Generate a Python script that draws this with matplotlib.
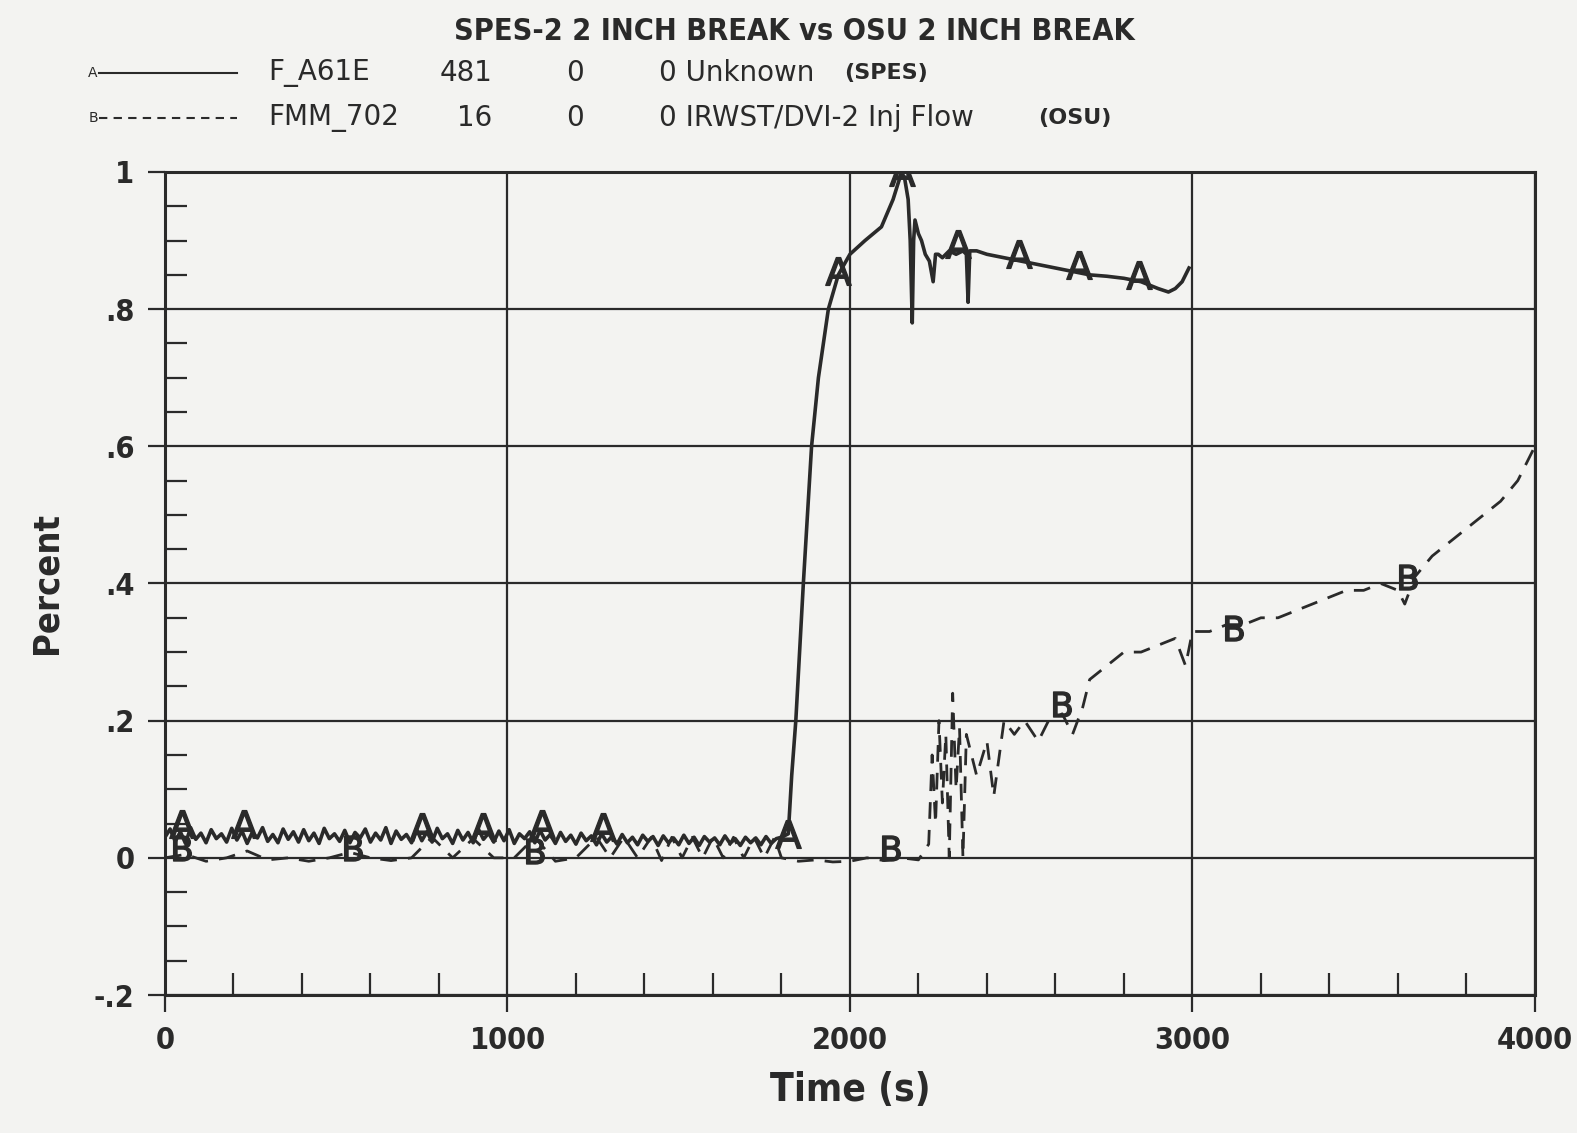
import matplotlib.pyplot as plt

# SPES-2 trace (solid, "A"): noisy band up to ~1820 s, then the rise
t_a = list(range(0, 1815, 15)) + [
    1820, 1830, 1842, 1853, 1864, 1876, 1888, 1908, 1937, 1966, 2000, 2044,
    2092, 2126, 2151, 2160, 2170, 2176, 2182, 2186, 2190, 2200, 2209, 2220,
    2232, 2243, 2250, 2258, 2270, 2290, 2310, 2330, 2340, 2345, 2350,
    2370, 2400, 2450, 2500, 2550, 2600, 2650, 2700, 2750, 2800, 2850, 2900,
    2930, 2950, 2970, 2990]
v_a = [0.030, 0.042, 0.024, 0.038, 0.021, 0.044, 0.027, 0.036, 0.022, 0.041, 0.028, 0.035,
       0.023, 0.043, 0.026, 0.039, 0.021, 0.037, 0.029, 0.044, 0.024, 0.034, 0.022, 0.042,
       0.027, 0.038, 0.023, 0.041, 0.025, 0.036, 0.021, 0.043, 0.028, 0.035, 0.024, 0.040,
       0.022, 0.037, 0.029, 0.042, 0.023, 0.036, 0.026, 0.044, 0.021, 0.039, 0.027, 0.034,
       0.022, 0.041, 0.025, 0.038, 0.023, 0.043, 0.028, 0.035, 0.021, 0.040, 0.026, 0.037,
       0.022, 0.042, 0.027, 0.036, 0.023, 0.039, 0.025, 0.041, 0.021, 0.035, 0.028, 0.038,
       0.022, 0.040, 0.026, 0.034, 0.021, 0.037, 0.024, 0.033, 0.020, 0.036, 0.025, 0.032,
       0.019, 0.035, 0.023, 0.031, 0.020, 0.034, 0.022, 0.030, 0.019, 0.033, 0.024, 0.031,
       0.018, 0.032, 0.022, 0.029, 0.019, 0.033, 0.021, 0.030, 0.018, 0.031, 0.023, 0.029,
       0.019, 0.032, 0.021, 0.028, 0.018, 0.030, 0.022, 0.029, 0.019, 0.031, 0.021, 0.028,
       0.030,
       0.035, 0.12, 0.20, 0.30, 0.40, 0.50, 0.60, 0.70, 0.80, 0.85, 0.88, 0.90,
       0.92, 0.96, 1.0, 0.99, 0.96, 0.90, 0.78, 0.90, 0.93, 0.91, 0.90, 0.88,
       0.87, 0.84, 0.88, 0.88, 0.875, 0.885, 0.88, 0.885, 0.88, 0.81, 0.885,
       0.885, 0.88, 0.875, 0.87, 0.865, 0.86, 0.855, 0.85, 0.848, 0.845, 0.84, 0.83,
       0.825, 0.83, 0.84, 0.86]
mark_a_t = [50, 230, 750, 930, 1100, 1280, 1820, 1966, 2151, 2315, 2495, 2670, 2845]
mark_a_v = [0.05, 0.05, 0.045, 0.045, 0.05, 0.045, 0.035, 0.855, 1.0, 0.895, 0.88, 0.865, 0.85]

# OSU trace (dashed, "B")
t_b = [0, 60, 120, 180, 240, 300, 360, 420, 480, 540, 600, 660, 720, 780, 840,
       900, 960, 1020, 1080, 1140, 1200, 1260, 1300, 1340, 1380, 1420, 1450, 1480,
       1510, 1540, 1570, 1600, 1630, 1660, 1690, 1720, 1750, 1780, 1800, 1850,
       1900, 1950, 2000, 2050, 2100, 2150, 2200,
       2230, 2240, 2250, 2260, 2270, 2280, 2290, 2300, 2310, 2320, 2330, 2340,
       2370, 2400, 2420, 2450, 2480, 2510, 2550, 2580, 2620, 2650, 2680, 2700,
       2750, 2800, 2850, 2900, 2950, 2980, 3000, 3050, 3100, 3150, 3200, 3250,
       3300, 3350, 3400, 3450, 3500, 3550, 3600, 3620, 3650, 3700, 3750, 3800,
       3850, 3900, 3950, 4000]
v_b = [0.0, 0.005, -0.005, 0.0, 0.01, -0.003, 0.0, -0.005, 0.0, 0.008, 0.0, -0.004,
       0.0, 0.03, 0.0, 0.028, 0.0, 0.0, 0.03, -0.005, 0.0, 0.03, 0.0, 0.03, 0.0,
       0.03, -0.004, 0.03, 0.0, 0.03, 0.0, 0.03, 0.0, 0.03, 0.0, 0.03, 0.0, 0.03,
       0.0, -0.005, -0.003, -0.006, -0.005, 0.0, -0.004, 0.0, -0.003,
       0.02, 0.15, 0.05, 0.20, 0.08, 0.18, 0.0, 0.24, 0.10, 0.19, 0.0, 0.18,
       0.12, 0.17, 0.09, 0.20, 0.18, 0.20, 0.17, 0.20, 0.21, 0.18, 0.22, 0.26,
       0.28, 0.30, 0.30, 0.31, 0.32, 0.28, 0.33, 0.33, 0.34, 0.34, 0.35, 0.35,
       0.36, 0.37, 0.38, 0.39, 0.39, 0.40, 0.39, 0.37, 0.41, 0.44, 0.46, 0.48,
       0.50, 0.52, 0.55, 0.60]
mark_b_t = [50, 550, 1080, 2120, 2620, 3120, 3630]
mark_b_v = [0.015, 0.015, 0.01, 0.015, 0.225, 0.335, 0.41]

bg = "#f3f3f1"
ink = "#2a2a2a"
narrow = dict(family="DejaVu Sans", fontstretch="condensed", fontweight="bold")

fig = plt.figure(figsize=(15.77, 11.33), dpi=100, facecolor=bg)
ax = fig.add_axes([0.1046, 0.1218, 0.8687, 0.7264], facecolor=bg)

ax.plot(t_a, v_a, color=ink, lw=2.6, solid_joinstyle="round")
ax.plot(mark_a_t, mark_a_v, ls="none", marker=r"$\mathsf{A}$", ms=20, color=ink)
ax.plot(t_b, v_b, color=ink, lw=2.0, ls=(0, (6, 4)))
ax.plot(mark_b_t, mark_b_v, ls="none", marker=r"$\mathsf{B}$", ms=18, color=ink)

ax.set_xlim(0, 4000)
ax.set_ylim(-0.2, 1.0)
ax.set_xticks([0, 1000, 2000, 3000, 4000])
ax.set_xticks(range(0, 4001, 200), minor=True)
ax.set_yticks([-0.2, 0, 0.2, 0.4, 0.6, 0.8, 1.0])
ax.set_yticks([i * 0.05 - 0.2 for i in range(25)], minor=True)
ax.set_xticklabels(["0", "1000", "2000", "3000", "4000"])
ax.set_yticklabels(["-.2", "0", ".2", ".4", ".6", ".8", "1"])
ax.grid(True, which="major", color=ink, lw=1.6)
ax.tick_params(which="minor", direction="in", length=16, width=1.6, color=ink)
ax.tick_params(which="major", direction="out", length=12, width=1.6, color=ink,
               labelsize=22, labelcolor=ink, pad=10)
for lab in ax.get_xticklabels() + ax.get_yticklabels():
    lab.set_family("DejaVu Sans")
    lab.set_fontstretch("condensed")
    lab.set_fontweight("bold")
for s in ax.spines.values():
    s.set_color(ink)
    s.set_linewidth(2.2)

ax.set_xlabel("Time (s)", fontsize=28, color=ink, labelpad=12, **narrow)
ax.set_ylabel("Percent", fontsize=26, color=ink, labelpad=22, **narrow)

fig.text(0.504, 0.972, "SPES-2 2 INCH BREAK vs OSU 2 INCH BREAK", ha="center",
         va="center", fontsize=22, color=ink, **narrow)

# legend block drawn as text rows
rows = [("A", "-", "F_A61E", "481", "0", "0 Unknown", "(SPES)", 0.936, 0.535),
        ("B", (0, (4, 3)), "FMM_702", "16", "0", "0 IRWST/DVI-2 Inj Flow", "(OSU)", 0.896, 0.658)]
for m, ls, name, n, z, desc, src, y, sx in rows:
    fig.add_artist(plt.Line2D([0.063, 0.150], [y, y], color=ink, lw=1.5, ls=ls))
    fig.text(0.059, y, m, fontsize=10, color=ink, va="center", ha="center")
    fig.text(0.170, y, name, fontsize=20, color=ink, va="center")
    fig.text(0.312, y, n, fontsize=20, color=ink, va="center", ha="right")
    fig.text(0.370, y, z, fontsize=20, color=ink, va="center", ha="right")
    fig.text(0.418, y, desc, fontsize=20, color=ink, va="center")
    fig.text(sx, y, src, fontsize=16, color=ink, va="center", fontweight="bold")

fig.savefig("out.png", dpi=100, facecolor=bg)
